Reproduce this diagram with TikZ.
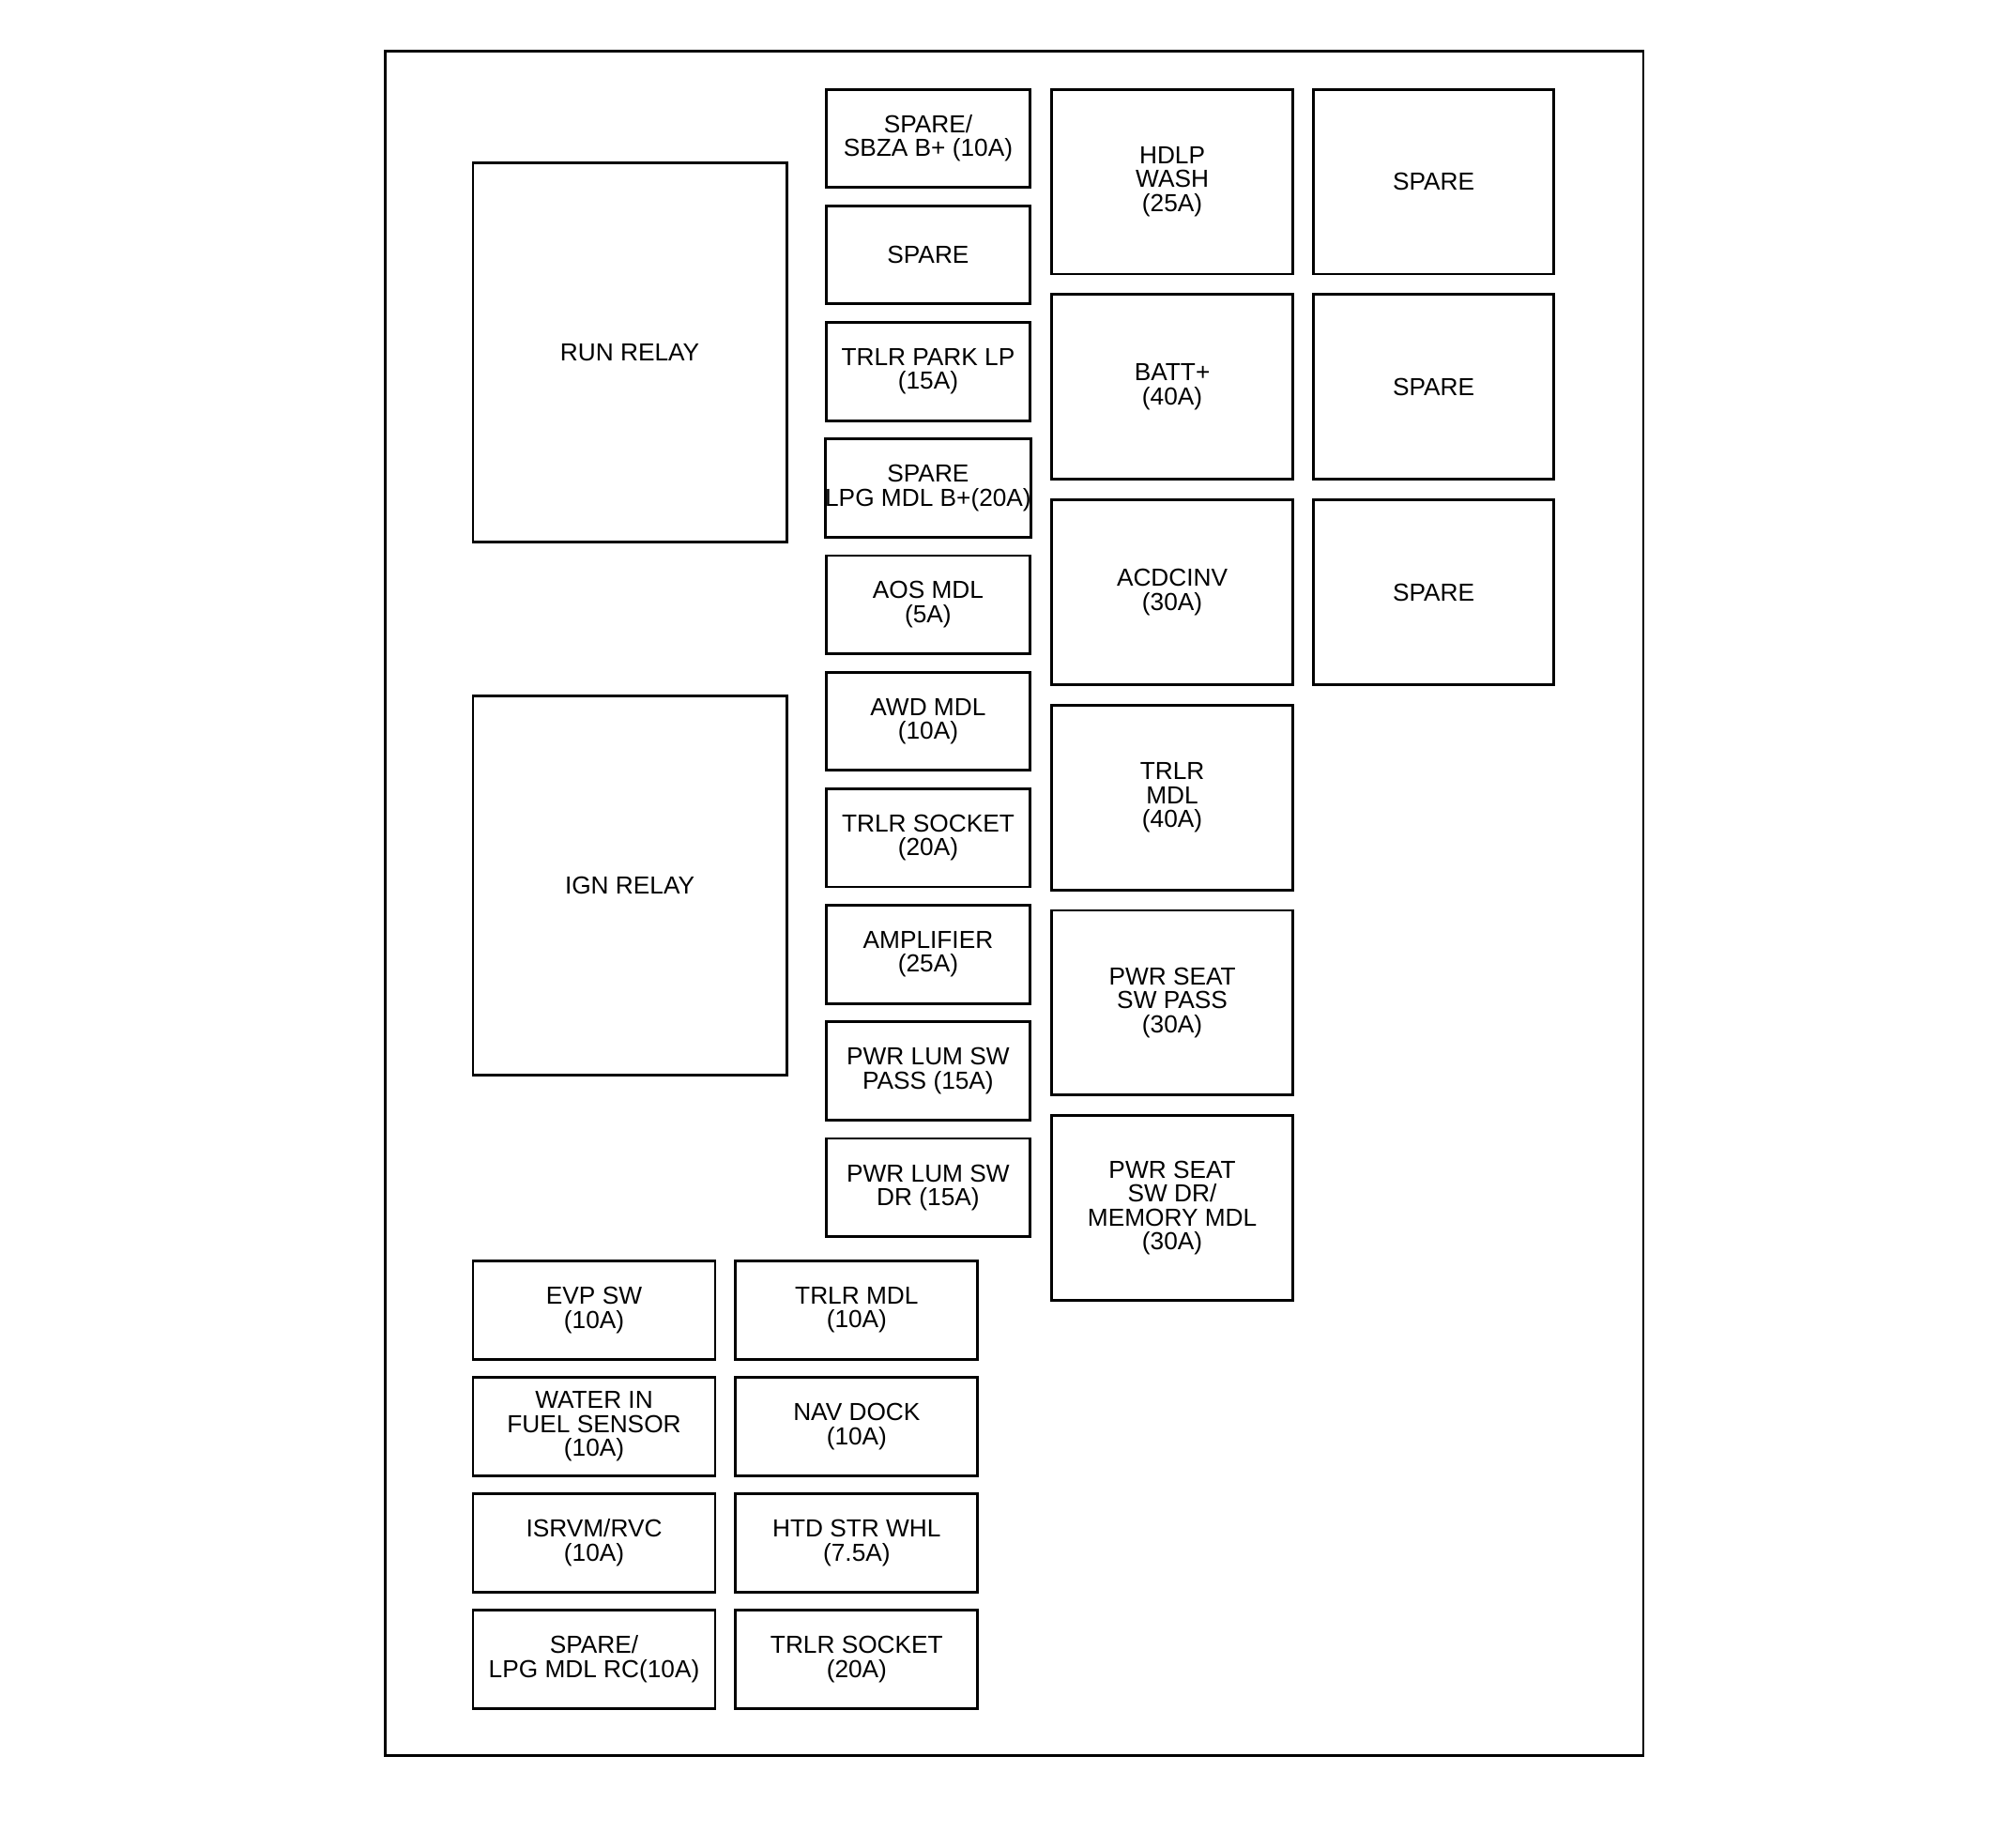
\documentclass[tikz,border=0pt]{standalone}
\usepackage{fontspec}
\setmainfont{Liberation Sans}
\tikzset{
    fuse/.style = {draw,line width=1.2pt,inner sep=0,align=center,
        font=\fontsize{11pt}{10.7pt}\selectfont,
        minimum width=3.2cm,minimum height=1.54cm},
    maxi/.style = {fuse,minimum width=3.78cm,minimum height=2.9cm},
    relay/.style = {fuse,minimum width=4.92cm,minimum height=5.94cm},
    lowfuse/.style = {fuse,minimum width=3.8cm},
    frame/.style = {line width=1.2pt}
}
\begin{document}
\begin{tikzpicture}[x=0.02cm,y=-0.02cm]
        \newcommand*\fsep{91.44}
        \newcommand*\msep{161}
        \newcommand*\lsep{91.3}
        \useasboundingbox (0,0) rectangle (1568,1449);
        % Housing
        \draw[frame] (302,40) rectangle (1289,1377);
        % Relays
        \node[relay] (run) at (494,276.5) {RUN RELAY};
        \node[relay] (ign) at (494,694.5) {IGN RELAY};
        % Mini fuses
        \path (728,108.5) node[fuse] (f1) {SPARE/\\SBZA B+ (10A)}
            to +(0,\fsep) node[fuse] (f2) {SPARE}
            to +(0,2*\fsep) node[fuse] (f3) {TRLR PARK LP\\(15A)}
            to +(0,3*\fsep) node[fuse] (f4) {SPARE\\LPG MDL B+(20A)}
            to +(0,4*\fsep) node[fuse] (f5) {AOS MDL\\(5A)}
            to +(0,5*\fsep) node[fuse] (f6) {AWD MDL\\(10A)}
            to +(0,6*\fsep) node[fuse] (f7) {TRLR SOCKET\\(20A)}
            to +(0,7*\fsep) node[fuse] (f8) {AMPLIFIER\\(25A)}
            to +(0,8*\fsep) node[fuse] (f9) {PWR LUM SW\\PASS (15A)}
            to +(0,9*\fsep) node[fuse] (f10) {PWR LUM SW\\DR (15A)}
        ;
        % Maxi fuses
        \path (919.5,142.5) node[maxi] (m1) {HDLP\\WASH\\(25A)}
            to +(0,\msep) node[maxi] (m2) {BATT+\\(40A)}
            to +(0,2*\msep) node[maxi] (m3) {ACDCINV\\(30A)}
            to +(0,3*\msep) node[maxi] (m4) {TRLR\\MDL\\(40A)}
            to +(0,4*\msep) node[maxi] (m5) {PWR SEAT\\SW PASS\\(30A)}
            to +(0,5*\msep) node[maxi] (m6) {PWR SEAT\\SW DR/\\MEMORY MDL\\(30A)}
        ;
        \path (1124.5,142.5) node[maxi] (s1) {SPARE}
            to +(0,\msep) node[maxi] (s2) {SPARE}
            to +(0,2*\msep) node[maxi] (s3) {SPARE}
        ;
        % Lower fuses
        \path (466,1027.5) node[lowfuse] (l1) {EVP SW\\(10A)}
            to +(0,\lsep) node[lowfuse] (l2) {WATER IN\\FUEL SENSOR\\(10A)}
            to +(0,2*\lsep) node[lowfuse] (l3) {ISRVM/RVC\\(10A)}
            to +(0,3*\lsep) node[lowfuse] (l4) {SPARE/\\LPG MDL RC(10A)}
        ;
        \path (672,1027.5) node[lowfuse] (r1) {TRLR MDL\\(10A)}
            to +(0,\lsep) node[lowfuse] (r2) {NAV DOCK\\(10A)}
            to +(0,2*\lsep) node[lowfuse] (r3) {HTD STR WHL\\(7.5A)}
            to +(0,3*\lsep) node[lowfuse] (r4) {TRLR SOCKET\\(20A)}
        ;
    \end{tikzpicture}
\end{document}
